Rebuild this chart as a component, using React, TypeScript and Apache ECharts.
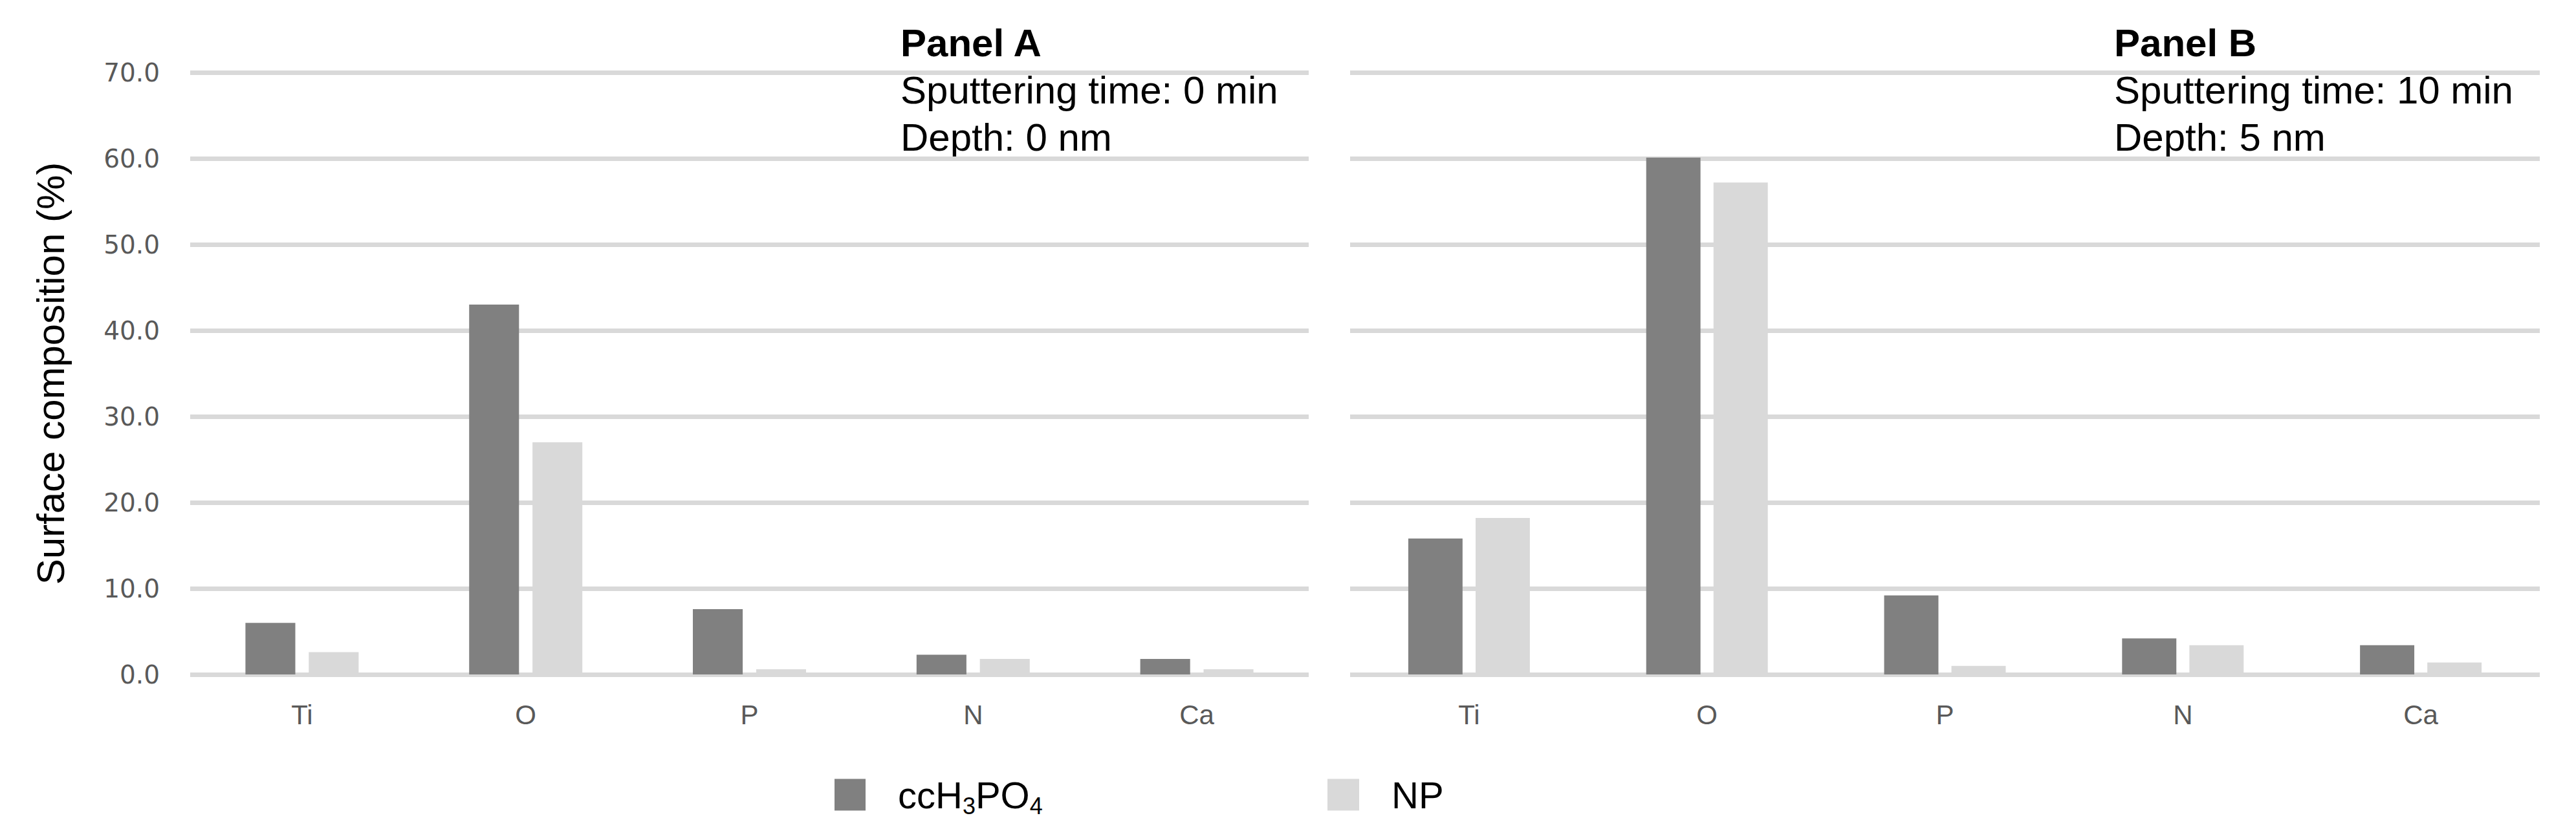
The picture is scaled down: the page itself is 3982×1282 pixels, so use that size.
import React, { useEffect, useRef } from "react";
import * as echarts from "echarts";

const categories = ["Ti", "O", "P", "N", "Ca"];
const panelA_cc = [6.0, 43.0, 7.6, 2.3, 1.8];
const panelA_np = [2.6, 27.0, 0.6, 1.8, 0.6];
const panelB_cc = [15.8, 60.1, 9.2, 4.2, 3.4];
const panelB_np = [18.2, 57.2, 1.0, 3.4, 1.4];
const seriesNames = ["ccH3PO4", "NP"];
const panelTexts = [
  ["Panel A", "Sputtering time: 0 min", "Depth: 0 nm"],
  ["Panel B", "Sputtering time: 10 min", "Depth: 5 nm"],
];
const yTitle = "Surface composition (%)";

const DARK = "#808080";
const LIGHT = "#d9d9d9";
const GRID = "#d9d9d9";
const LABEL = "#595959";
const FONT = "'Liberation Sans', Arial, sans-serif";

export default function App() {
  const ref = useRef<HTMLDivElement>(null);
  useEffect(() => {
    document.body.style.margin = "0";
    const chart = echarts.init(ref.current!, null, { renderer: "svg" });
    const legendRich = {
      n: { fontSize: 58, lineHeight: 70, color: "#000", fontFamily: FONT },
      s: { fontSize: 36, lineHeight: 36, verticalAlign: "bottom", color: "#000", fontFamily: FONT },
    };
    const legendFmt = (name: string) =>
      name === "ccH3PO4" ? "{n|ccH}{s|3}{n|PO}{s|4}" : `{n|${name}}`;
    const yAxisBase = (show: boolean, gridIndex: number) => ({
      type: "value",
      gridIndex,
      min: 0,
      max: 70,
      interval: 10,
      axisLine: { show: false },
      axisTick: { show: false },
      splitLine: { show: true, lineStyle: { color: GRID, width: 7 } },
      axisLabel: {
        show,
        margin: 47,
        color: LABEL,
        fontSize: 39,
        fontFamily: "'DejaVu Sans', sans-serif",
        formatter: (v: number) => v.toFixed(1),
      },
      ...(show
        ? {
            name: yTitle,
            nameLocation: "middle",
            nameRotate: 90,
            nameGap: 186,
            nameTextStyle: { fontSize: 60, color: "#000", fontFamily: FONT },
          }
        : {}),
    });
    const xAxisBase = (gridIndex: number) => ({
      type: "category",
      gridIndex,
      data: categories,
      axisLine: { show: false },
      axisTick: { show: false },
      axisLabel: { margin: 41, color: LABEL, fontSize: 42, fontFamily: FONT },
    });
    const panelText = (lines: string[], x: number) => ({
      type: "text",
      x,
      y: 30,
      style: {
        text: `{b|${lines[0]}}\n${lines[1]}\n${lines[2]}`,
        fontSize: 60,
        lineHeight: 73,
        fontFamily: FONT,
        fill: "#000",
        rich: {
          b: { fontSize: 60, lineHeight: 73, fontWeight: "bold", fontFamily: FONT, fill: "#000" },
        },
      },
    });
    chart.setOption({
      animation: false,
      backgroundColor: "#fff",
      grid: [
        { left: 294, top: 112, width: 1729, height: 931 },
        { left: 2087, top: 112, width: 1839, height: 931 },
      ],
      xAxis: [xAxisBase(0), xAxisBase(1)],
      yAxis: [yAxisBase(true, 0), yAxisBase(false, 1)],
      legend: [
        {
          data: [seriesNames[0]],
          left: 1285,
          top: 1195,
          itemWidth: 48,
          itemHeight: 49,
          icon: "rect",
          formatter: legendFmt,
          textStyle: { rich: legendRich, padding: [0, 0, 0, 45] },
        },
        {
          data: [seriesNames[1]],
          left: 2047,
          top: 1195,
          itemWidth: 49,
          itemHeight: 49,
          icon: "rect",
          formatter: legendFmt,
          textStyle: { rich: legendRich, padding: [0, 0, 0, 45] },
        },
      ],
      graphic: [panelText(panelTexts[0], 1392), panelText(panelTexts[1], 3268)],
      series: [
        {
          name: seriesNames[0],
          type: "bar",
          xAxisIndex: 0,
          yAxisIndex: 0,
          data: panelA_cc,
          itemStyle: { color: DARK },
          barGap: "27%",
          barCategoryGap: "49.4%",
        },
        {
          name: seriesNames[1],
          type: "bar",
          xAxisIndex: 0,
          yAxisIndex: 0,
          data: panelA_np,
          itemStyle: { color: LIGHT },
          barGap: "27%",
          barCategoryGap: "49.4%",
        },
        {
          name: seriesNames[0],
          type: "bar",
          xAxisIndex: 1,
          yAxisIndex: 1,
          data: panelB_cc,
          itemStyle: { color: DARK },
          barGap: "24%",
          barCategoryGap: "48.9%",
        },
        {
          name: seriesNames[1],
          type: "bar",
          xAxisIndex: 1,
          yAxisIndex: 1,
          data: panelB_np,
          itemStyle: { color: LIGHT },
          barGap: "24%",
          barCategoryGap: "48.9%",
        },
      ],
    });
    return () => chart.dispose();
  }, []);
  return (
    <div
      ref={ref}
      style={{ position: "fixed", left: 0, top: 0, width: 3982, height: 1282 }}
    />
  );
}
